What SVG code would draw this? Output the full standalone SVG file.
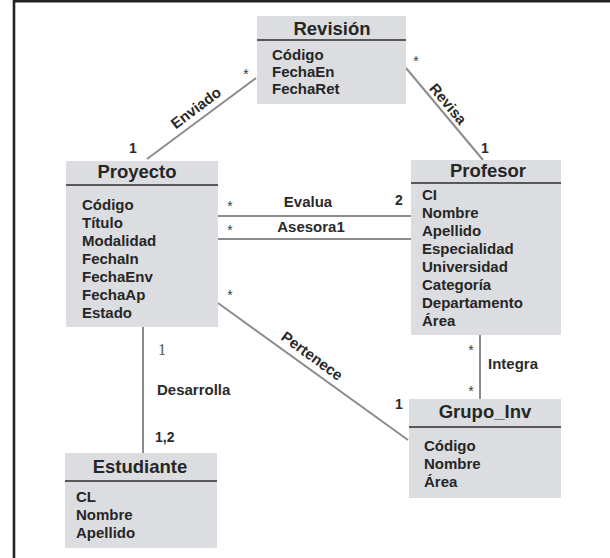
<svg xmlns="http://www.w3.org/2000/svg" width="610" height="558" viewBox="0 0 610 558">
  <style>
    .box { fill: #dcdde0; }
    .sep { stroke: #585858; stroke-width: 2.2; }
    .title { font-family: "Liberation Sans", Arial, sans-serif; font-weight: bold; font-size: 18.5px; fill: #262626; text-anchor: middle; }
    .attr { font-family: "Liberation Sans", Arial, sans-serif; font-weight: bold; font-size: 15px; fill: #262626; }
    .lbl { font-family: "Liberation Sans", Arial, sans-serif; font-weight: bold; font-size: 15px; fill: #2a2a2a; }
    .mult { font-family: "Liberation Sans", Arial, sans-serif; font-weight: bold; font-size: 14px; fill: #2a2a2a; }
    .star { font-family: "Liberation Sans", Arial, sans-serif; font-size: 14px; fill: #3a3a3a; text-anchor: middle; }
    .link { stroke: #8c8c8c; stroke-width: 2; fill: none; }
  </style>

  <rect width="610" height="558" fill="#ffffff"/>
  <!-- page frame -->
  <path d="M14,558 V1.3 H610" fill="none" stroke="#222" stroke-width="2.6"/>

  <!-- associations -->
  <g id="connectors">
    <line class="link" x1="147" y1="159" x2="256" y2="78"/>
    <line class="link" x1="406" y1="68" x2="483" y2="160"/>
    <line class="link" x1="218" y1="216" x2="411" y2="216"/>
    <line class="link" x1="218" y1="239" x2="411" y2="239"/>
    <line class="link" x1="218" y1="303" x2="408" y2="440"/>
    <line class="link" x1="143" y1="327" x2="143" y2="453"/>
    <line class="link" x1="480" y1="335" x2="480" y2="399"/>

    <!-- Enviado -->
    <text class="mult" x="133" y="153" text-anchor="middle">1</text>
    <text class="star" x="246" y="79">*</text>
    <text class="lbl" text-anchor="middle" transform="translate(196,108) rotate(-37)" y="5">Enviado</text>

    <!-- Revisa -->
    <text class="star" x="416" y="66">*</text>
    <text class="mult" x="485" y="153" text-anchor="middle">1</text>
    <text class="lbl" text-anchor="middle" transform="translate(448,104) rotate(50)" y="5">Revisa</text>

    <!-- Evalua / Asesora1 -->
    <text class="star" x="230" y="211">*</text>
    <text class="lbl" x="308" y="207" text-anchor="middle">Evalua</text>
    <text class="mult" x="399" y="205" text-anchor="middle">2</text>
    <text class="star" x="230" y="235">*</text>
    <text class="lbl" x="311" y="232" text-anchor="middle">Asesora1</text>

    <!-- Pertenece -->
    <text class="star" x="230" y="300">*</text>
    <text class="lbl" text-anchor="middle" transform="translate(312,356) rotate(36)" y="5">Pertenece</text>
    <text class="mult" x="399" y="409" text-anchor="middle">1</text>

    <!-- Desarrolla -->
    <text x="158" y="355" font-family="'Liberation Serif', 'Times New Roman', serif" font-size="16" fill="#555">1</text>
    <text class="lbl" x="157" y="395">Desarrolla</text>
    <text class="mult" x="155" y="442">1,2</text>

    <!-- Integra -->
    <text class="star" x="471" y="355">*</text>
    <text class="lbl" x="488" y="369">Integra</text>
    <text class="star" x="471" y="396">*</text>
  </g>

  <g id="revision">
    <rect class="box" x="257" y="16" width="149" height="88"/>
    <line class="sep" x1="257" y1="40" x2="406" y2="40"/>
    <text class="title" x="332" y="35">Revisión</text>
    <text class="attr" x="272" y="60">Código</text>
    <text class="attr" x="272" y="77">FechaEn</text>
    <text class="attr" x="272" y="94">FechaRet</text>
  </g>

  <g id="proyecto">
    <rect class="box" x="66" y="161" width="152" height="166"/>
    <line class="sep" x1="66" y1="185" x2="218" y2="185"/>
    <text class="title" x="137" y="178">Proyecto</text>
    <text class="attr" x="82" y="210">Código</text>
    <text class="attr" x="82" y="228">Título</text>
    <text class="attr" x="82" y="246">Modalidad</text>
    <text class="attr" x="82" y="264">FechaIn</text>
    <text class="attr" x="82" y="282">FechaEnv</text>
    <text class="attr" x="82" y="300">FechaAp</text>
    <text class="attr" x="82" y="318">Estado</text>
  </g>

  <g id="profesor">
    <rect class="box" x="411" y="160" width="150" height="175"/>
    <line class="sep" x1="411" y1="183" x2="561" y2="183"/>
    <text class="title" x="488" y="177">Profesor</text>
    <text class="attr" x="422" y="200">CI</text>
    <text class="attr" x="422" y="218">Nombre</text>
    <text class="attr" x="422" y="236">Apellido</text>
    <text class="attr" x="422" y="254">Especialidad</text>
    <text class="attr" x="422" y="272">Universidad</text>
    <text class="attr" x="422" y="290">Categoría</text>
    <text class="attr" x="422" y="308">Departamento</text>
    <text class="attr" x="422" y="326">Área</text>
  </g>

  <g id="grupo_inv">
    <rect class="box" x="409" y="399" width="152" height="99"/>
    <line class="sep" x1="409" y1="427" x2="561" y2="427"/>
    <text class="title" x="485" y="418">Grupo_Inv</text>
    <text class="attr" x="424" y="451">Código</text>
    <text class="attr" x="424" y="469">Nombre</text>
    <text class="attr" x="424" y="487">Área</text>
  </g>

  <g id="estudiante">
    <rect class="box" x="65" y="453" width="152" height="95"/>
    <line class="sep" x1="65" y1="481" x2="217" y2="481"/>
    <text class="title" x="140" y="473">Estudiante</text>
    <text class="attr" x="76" y="502">CL</text>
    <text class="attr" x="76" y="520">Nombre</text>
    <text class="attr" x="76" y="538">Apellido</text>
  </g>
</svg>
